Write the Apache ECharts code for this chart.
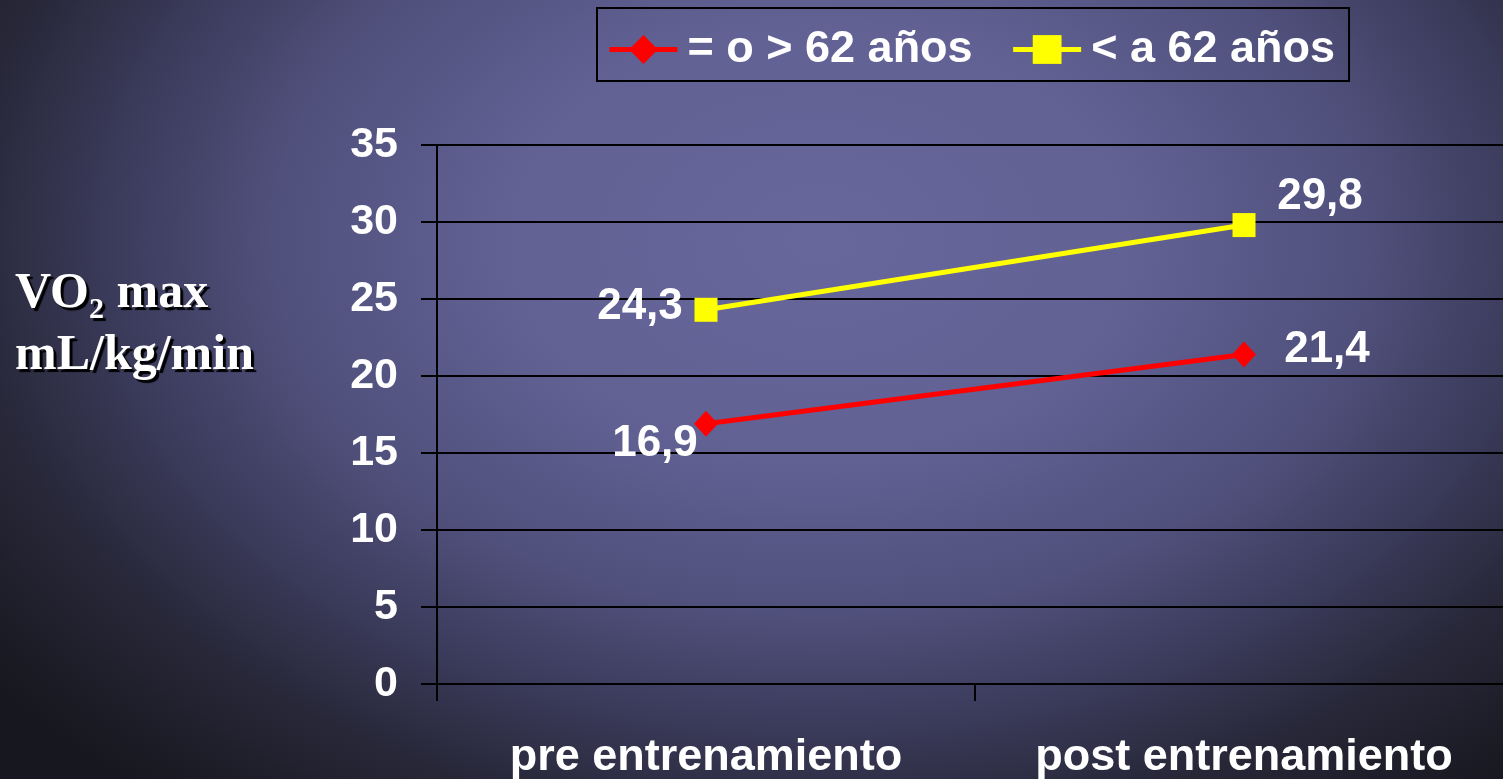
<!DOCTYPE html>
<html>
<head>
<meta charset="utf-8">
<script src="https://cdn.jsdelivr.net/npm/echarts@6/dist/echarts.min.js"></script>
<style>
  html, body { margin: 0; padding: 0; width: 100%; height: 100%; overflow: hidden; }
  body {
    background: radial-gradient(ellipse 1050px 720px at 820px 240px,
      #67679c 0%, #616194 30%, #50507c 52%, #3a3a5a 68%, #272738 82%, #17171f 100%);
  }
  #chart { width: 1503px; height: 779px; }
</style>
</head>
<body>
<div id="chart"></div>
<script>
// Measurement moments on the category axis
const categories = ['pre entrenamiento', 'post entrenamiento'];
// VO2 max (mL/kg/min) per age group
const olderGroup = [16.9, 21.4];   // = o > 62 años
const youngerGroup = [24.3, 29.8]; // < a 62 años
const seriesNames = ['= o > 62 años', '< a 62 años'];
// Value axis range
const yMin = 0, yMax = 35, yStep = 5;

const sans = '"Liberation Sans", Arial, sans-serif';
const serif = '"Liberation Serif", "Times New Roman", serif';
const labelFont = { color: '#ffffff', fontFamily: sans, fontWeight: 'bold', fontSize: 44 };
const titleShadow = { textShadowColor: '#000000', textShadowOffsetX: 3, textShadowOffsetY: 3, textShadowBlur: 1 };

function pointLabels(values, offsets) {
  return values.map((v, i) => ({
    value: v,
    label: {
      show: true,
      position: 'inside',
      offset: offsets[i],
      formatter: p => String(p.value).replace('.', ','),
      ...labelFont
    }
  }));
}

const chart = echarts.init(document.getElementById('chart'), null, { renderer: 'canvas' });

chart.setOption({
  backgroundColor: 'transparent',
  animation: false,
  title: {
    left: 10,
    top: 258,
    text: '{a|VO}{b|2}{a| max}\n{a|mL/kg/min}',
    textStyle: {
      color: '#ffffff',
      ...titleShadow,
      rich: {
        a: {
          fontFamily: serif, fontWeight: 'bold', fontSize: 50, lineHeight: 62, color: '#ffffff',
          ...titleShadow
        },
        b: {
          fontFamily: serif, fontWeight: 'bold', fontSize: 30, lineHeight: 50, color: '#ffffff',
          verticalAlign: 'bottom',
          ...titleShadow
        }
      }
    }
  },
  legend: {
    left: 597,
    top: 8,
    padding: [19, 14, 9, 10],
    itemGap: 38,
    itemWidth: 68,
    itemHeight: 36,
    borderColor: '#000000',
    borderWidth: 2,
    data: seriesNames,
    lineStyle: { width: 5 },
    textStyle: { color: '#ffffff', fontFamily: sans, fontWeight: 'bold', fontSize: 45, padding: [0, 0, 0, 5] }
  },
  grid: {
    left: 437,
    top: 145,
    width: 1076,
    height: 539,
    outerBoundsMode: 'none',
    containLabel: false
  },
  xAxis: {
    type: 'category',
    data: categories,
    boundaryGap: true,
    axisLine: { show: true, lineStyle: { color: '#000000', width: 2 } },
    axisTick: { show: true, interval: 0, length: 17, alignWithLabel: false, lineStyle: { color: '#000000', width: 2 } },
    axisLabel: { interval: 0, hideOverlap: false, margin: 51, color: '#ffffff', fontFamily: sans, fontWeight: 'bold', fontSize: 45 },
    splitLine: { show: false }
  },
  yAxis: {
    type: 'value',
    min: yMin,
    max: yMax,
    interval: yStep,
    axisLine: { show: true, lineStyle: { color: '#000000', width: 2 } },
    axisTick: { show: true, length: 16, lineStyle: { color: '#000000', width: 2 } },
    axisLabel: { margin: 39, color: '#ffffff', fontFamily: sans, fontWeight: 'bold', fontSize: 43 },
    splitLine: { show: true, lineStyle: { color: '#000000', width: 2 } }
  },
  series: [
    {
      name: seriesNames[0],
      type: 'line',
      data: pointLabels(olderGroup, [[-51, 20], [83, -5]]),
      symbol: 'diamond',
      symbolSize: [24, 26],
      lineStyle: { color: '#ff0000', width: 5 },
      itemStyle: { color: '#ff0000' },
      z: 3
    },
    {
      name: seriesNames[1],
      type: 'line',
      data: pointLabels(youngerGroup, [[-66, -3], [76, -28]]),
      symbol: 'rect',
      symbolSize: [23, 24],
      lineStyle: { color: '#ffff00', width: 5 },
      itemStyle: { color: '#ffff00' },
      z: 3
    }
  ]
});
</script>
</body>
</html>
